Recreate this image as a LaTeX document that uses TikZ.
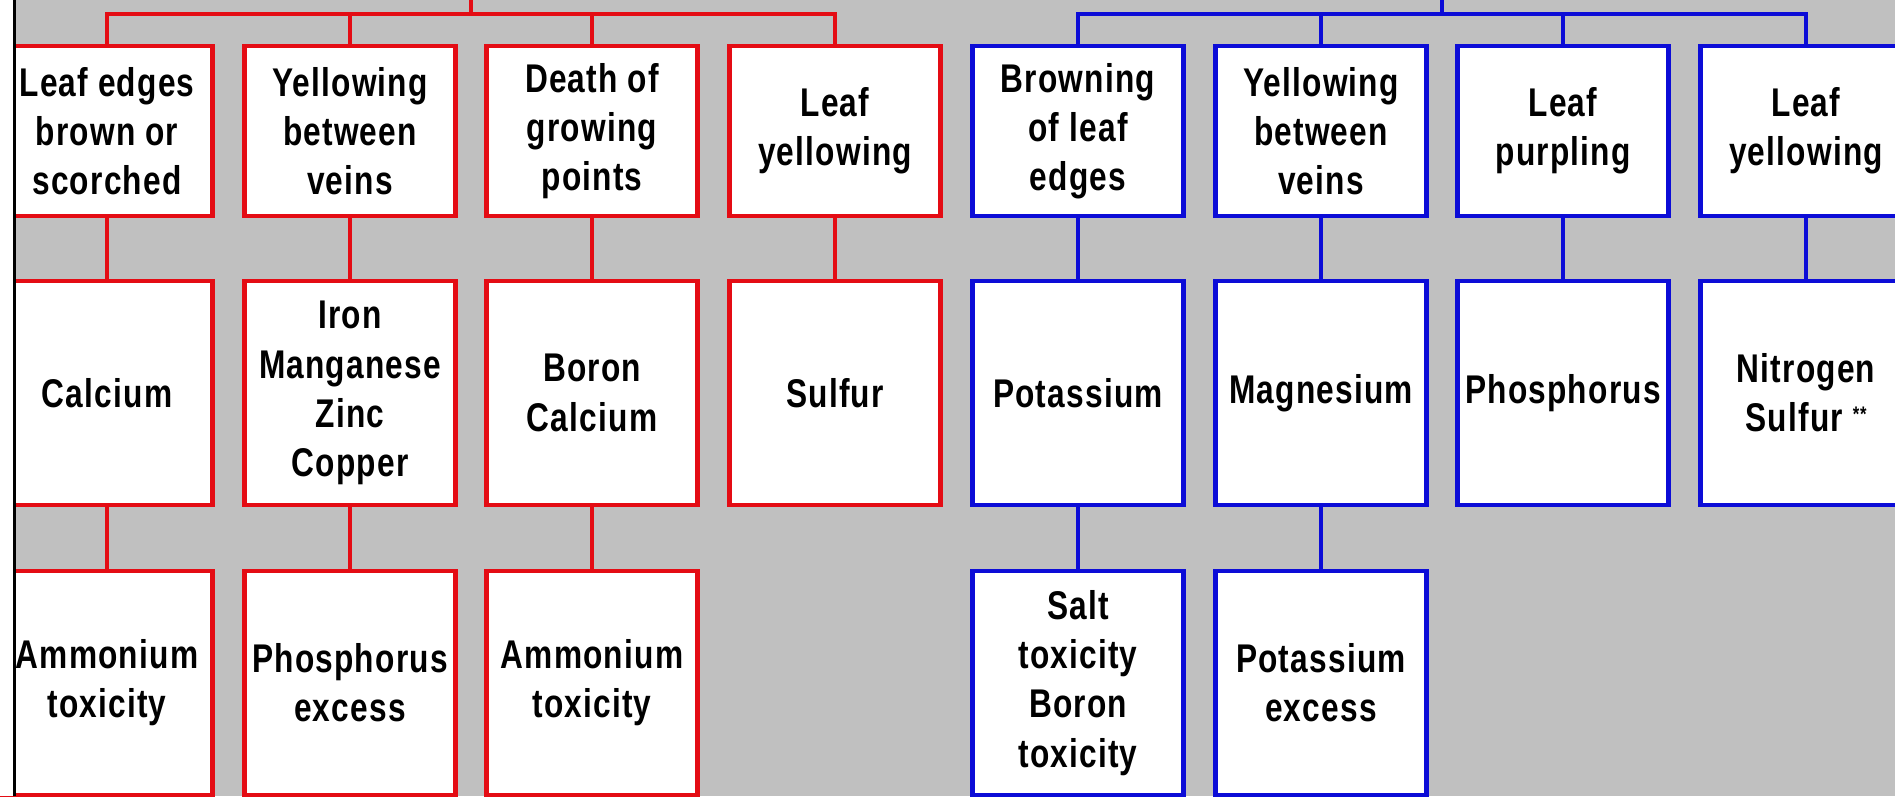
\documentclass[tikz,border=0pt]{standalone}
\usepackage{fontspec}
\setmainfont{Liberation Sans}[FakeStretch=0.79, LetterSpace=3.0]
\usepackage{xcolor}
\usetikzlibrary{positioning}
\definecolor{panel}{RGB}{192, 192, 192}
\definecolor{lackred}{RGB}{228, 12, 20}
\definecolor{lackblue}{RGB}{12, 12, 215}

\begin{document}
\begin{tikzpicture}[
    box/.style={draw, fill=white, line width=1.3pt, minimum width=2.11cm,
                inner sep=0pt, align=center,
                font=\bfseries\fontsize{11.4}{14}\selectfont},
    redbox/.style={box, draw=lackred},
    bluebox/.style={box, draw=lackblue},
    symrow/.style={minimum height=1.70cm},
    elemrow/.style={minimum height=2.24cm},
    redlink/.style={lackred, line width=1.1pt},
    bluelink/.style={lackblue, line width=1.1pt}]

  % frame of the picture
  \useasboundingbox (0,0) rectangle (18.95,7.96);
  \clip (0,0) rectangle (18.95,7.96);
  \fill[panel] (0,0) rectangle (18.95,7.96);

  % trunks and buses
  \coordinate (rtrunk) at (4.71,7.96);
  \coordinate (rbus) at (4.71,7.82);
  \coordinate (btrunk) at (14.42,7.96);
  \coordinate (bbus) at (14.42,7.82);

  % red side: symptoms
  \node[redbox, symrow] (rs1) at (1.07,6.65) {Leaf edges\\brown or\\scorched};
  \node[redbox, symrow] (rs2) at (3.50,6.65) {Yellowing\\between\\veins};
  \node[redbox, symrow] (rs3) at (5.92,6.65) {Death of\\growing\\points};
  \node[redbox, symrow] (rs4) at (8.35,6.65) {Leaf\\yellowing};

  % red side: elements
  \node[redbox, elemrow] (rc1) at (1.07,4.03) {Calcium};
  \node[redbox, elemrow] (rc2) at (3.50,4.03) {Iron\\Manganese\\Zinc\\Copper};
  \node[redbox, elemrow] (rc3) at (5.92,4.03) {Boron\\Calcium};
  \node[redbox, elemrow] (rc4) at (8.35,4.03) {Sulfur};

  % red side: other causes
  \node[redbox, elemrow] (rx1) at (1.07,1.13) {Ammonium\\toxicity};
  \node[redbox, elemrow] (rx2) at (3.50,1.13) {Phosphorus\\excess};
  \node[redbox, elemrow] (rx3) at (5.92,1.13) {Ammonium\\toxicity};

  % blue side: symptoms
  \node[bluebox, symrow] (bs1) at (10.78,6.65) {Browning\\of leaf\\edges};
  \node[bluebox, symrow] (bs2) at (13.21,6.65) {Yellowing\\between\\veins};
  \node[bluebox, symrow] (bs3) at (15.63,6.65) {Leaf\\purpling};
  \node[bluebox, symrow] (bs4) at (18.06,6.65) {Leaf\\yellowing};

  % blue side: elements
  \node[bluebox, elemrow] (bc1) at (10.78,4.03) {Potassium};
  \node[bluebox, elemrow] (bc2) at (13.21,4.03) {Magnesium};
  \node[bluebox, elemrow] (bc3) at (15.63,4.03) {Phosphorus};
  \node[bluebox, elemrow] (bc4) at (18.06,4.03)
    {Nitrogen\\Sulfur \raisebox{0.25em}{\fontsize{6}{6}\selectfont **}};

  % blue side: other causes
  \node[bluebox, elemrow] (bx1) at (10.78,1.13) {Salt\\toxicity\\Boron\\toxicity};
  \node[bluebox, elemrow] (bx2) at (13.21,1.13) {Potassium\\excess};

  % red connectors
  \draw[redlink] (rtrunk) -- (rbus);
  \draw[redlink] (rs1.north) -- (rs1.north |- rbus) -- (rs4.north |- rbus) -- (rs4.north);
  \draw[redlink] (rs2.north) -- (rs2.north |- rbus);
  \draw[redlink] (rs3.north) -- (rs3.north |- rbus);
  \draw[redlink] (rs1.south) -- (rc1.north);
  \draw[redlink] (rs2.south) -- (rc2.north);
  \draw[redlink] (rs3.south) -- (rc3.north);
  \draw[redlink] (rs4.south) -- (rc4.north);
  \draw[redlink] (rc1.south) -- (rx1.north);
  \draw[redlink] (rc2.south) -- (rx2.north);
  \draw[redlink] (rc3.south) -- (rx3.north);

  % blue connectors
  \draw[bluelink] (btrunk) -- (bbus);
  \draw[bluelink] (bs1.north) -- (bs1.north |- bbus) -- (bs4.north |- bbus) -- (bs4.north);
  \draw[bluelink] (bs2.north) -- (bs2.north |- bbus);
  \draw[bluelink] (bs3.north) -- (bs3.north |- bbus);
  \draw[bluelink] (bs1.south) -- (bc1.north);
  \draw[bluelink] (bs2.south) -- (bc2.north);
  \draw[bluelink] (bs3.south) -- (bc3.north);
  \draw[bluelink] (bs4.south) -- (bc4.north);
  \draw[bluelink] (bc1.south) -- (bx1.north);
  \draw[bluelink] (bc2.south) -- (bx2.north);

  % left margin and edge line
  \fill[white] (0,0) rectangle (0.135,7.96);
  \draw[black, line width=0.6pt] (0.145,0) -- (0.145,7.96);
\end{tikzpicture}
\end{document}
